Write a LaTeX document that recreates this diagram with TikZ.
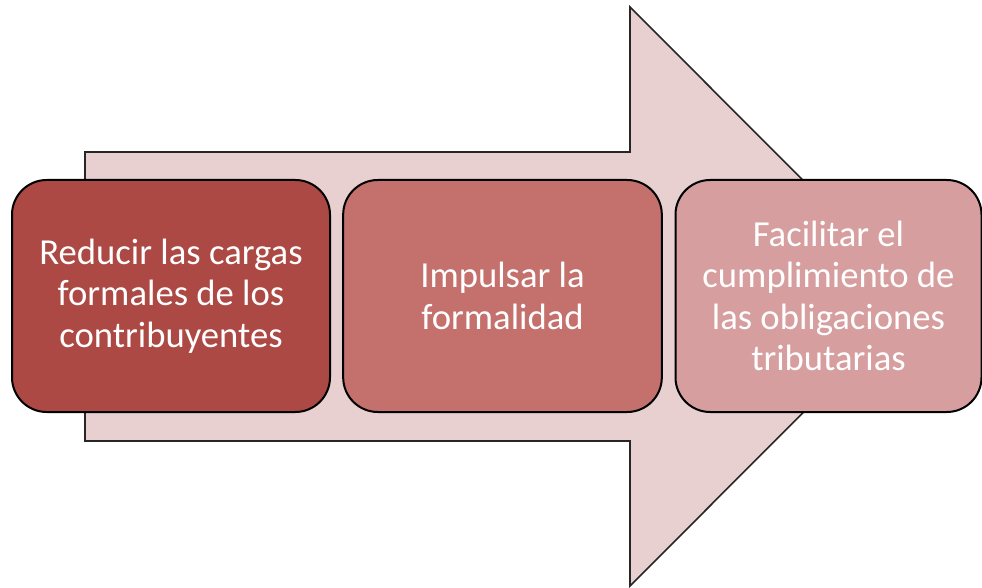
\documentclass[tikz,border=0pt]{standalone}
\usepackage{fontspec}
\setmainfont{Carlito}
\usetikzlibrary{positioning}
\definecolor{arrowfill}{HTML}{E8D0D1}
\definecolor{stepdark}{HTML}{AD4944}
\definecolor{stepmid}{HTML}{C4706C}
\definecolor{steplight}{HTML}{D69E9E}

\begin{document}
\begin{tikzpicture}[
 x=0.75pt, y=-0.75pt,
 bigarrow/.style={draw=black!85, line width=1.2pt, fill=arrowfill},
 stage/.style={rectangle, rounded corners=26pt, draw=black, line width=1.5pt, minimum height=174pt, font=\fontsize{27.5}{31}\selectfont, text=white, align=center},
 stageone/.style={stage, fill=stepdark, minimum width=238.5pt},
 stagetwo/.style={stage, fill=stepmid, minimum width=239pt},
 stagethree/.style={stage, fill=steplight, minimum width=229.5pt}
]
\useasboundingbox (0,0) rectangle (982,588);

% Background arrow
\draw[bigarrow] (85,152) -- (630,152) -- (630,7) -- (919,296.5) -- (630,586) -- (630,441) -- (85,441) -- cycle;

% Stages
\node[stageone] (S1) at (171,296) {Reducir las cargas\\formales de los\\contribuyentes};
\node[stagetwo] (S2) at (502.5,296) {Impulsar la\\formalidad};
\node[stagethree] (S3) at (828.5,296) {Facilitar el\\cumplimiento de\\las obligaciones\\tributarias};
\end{tikzpicture}
\end{document}
